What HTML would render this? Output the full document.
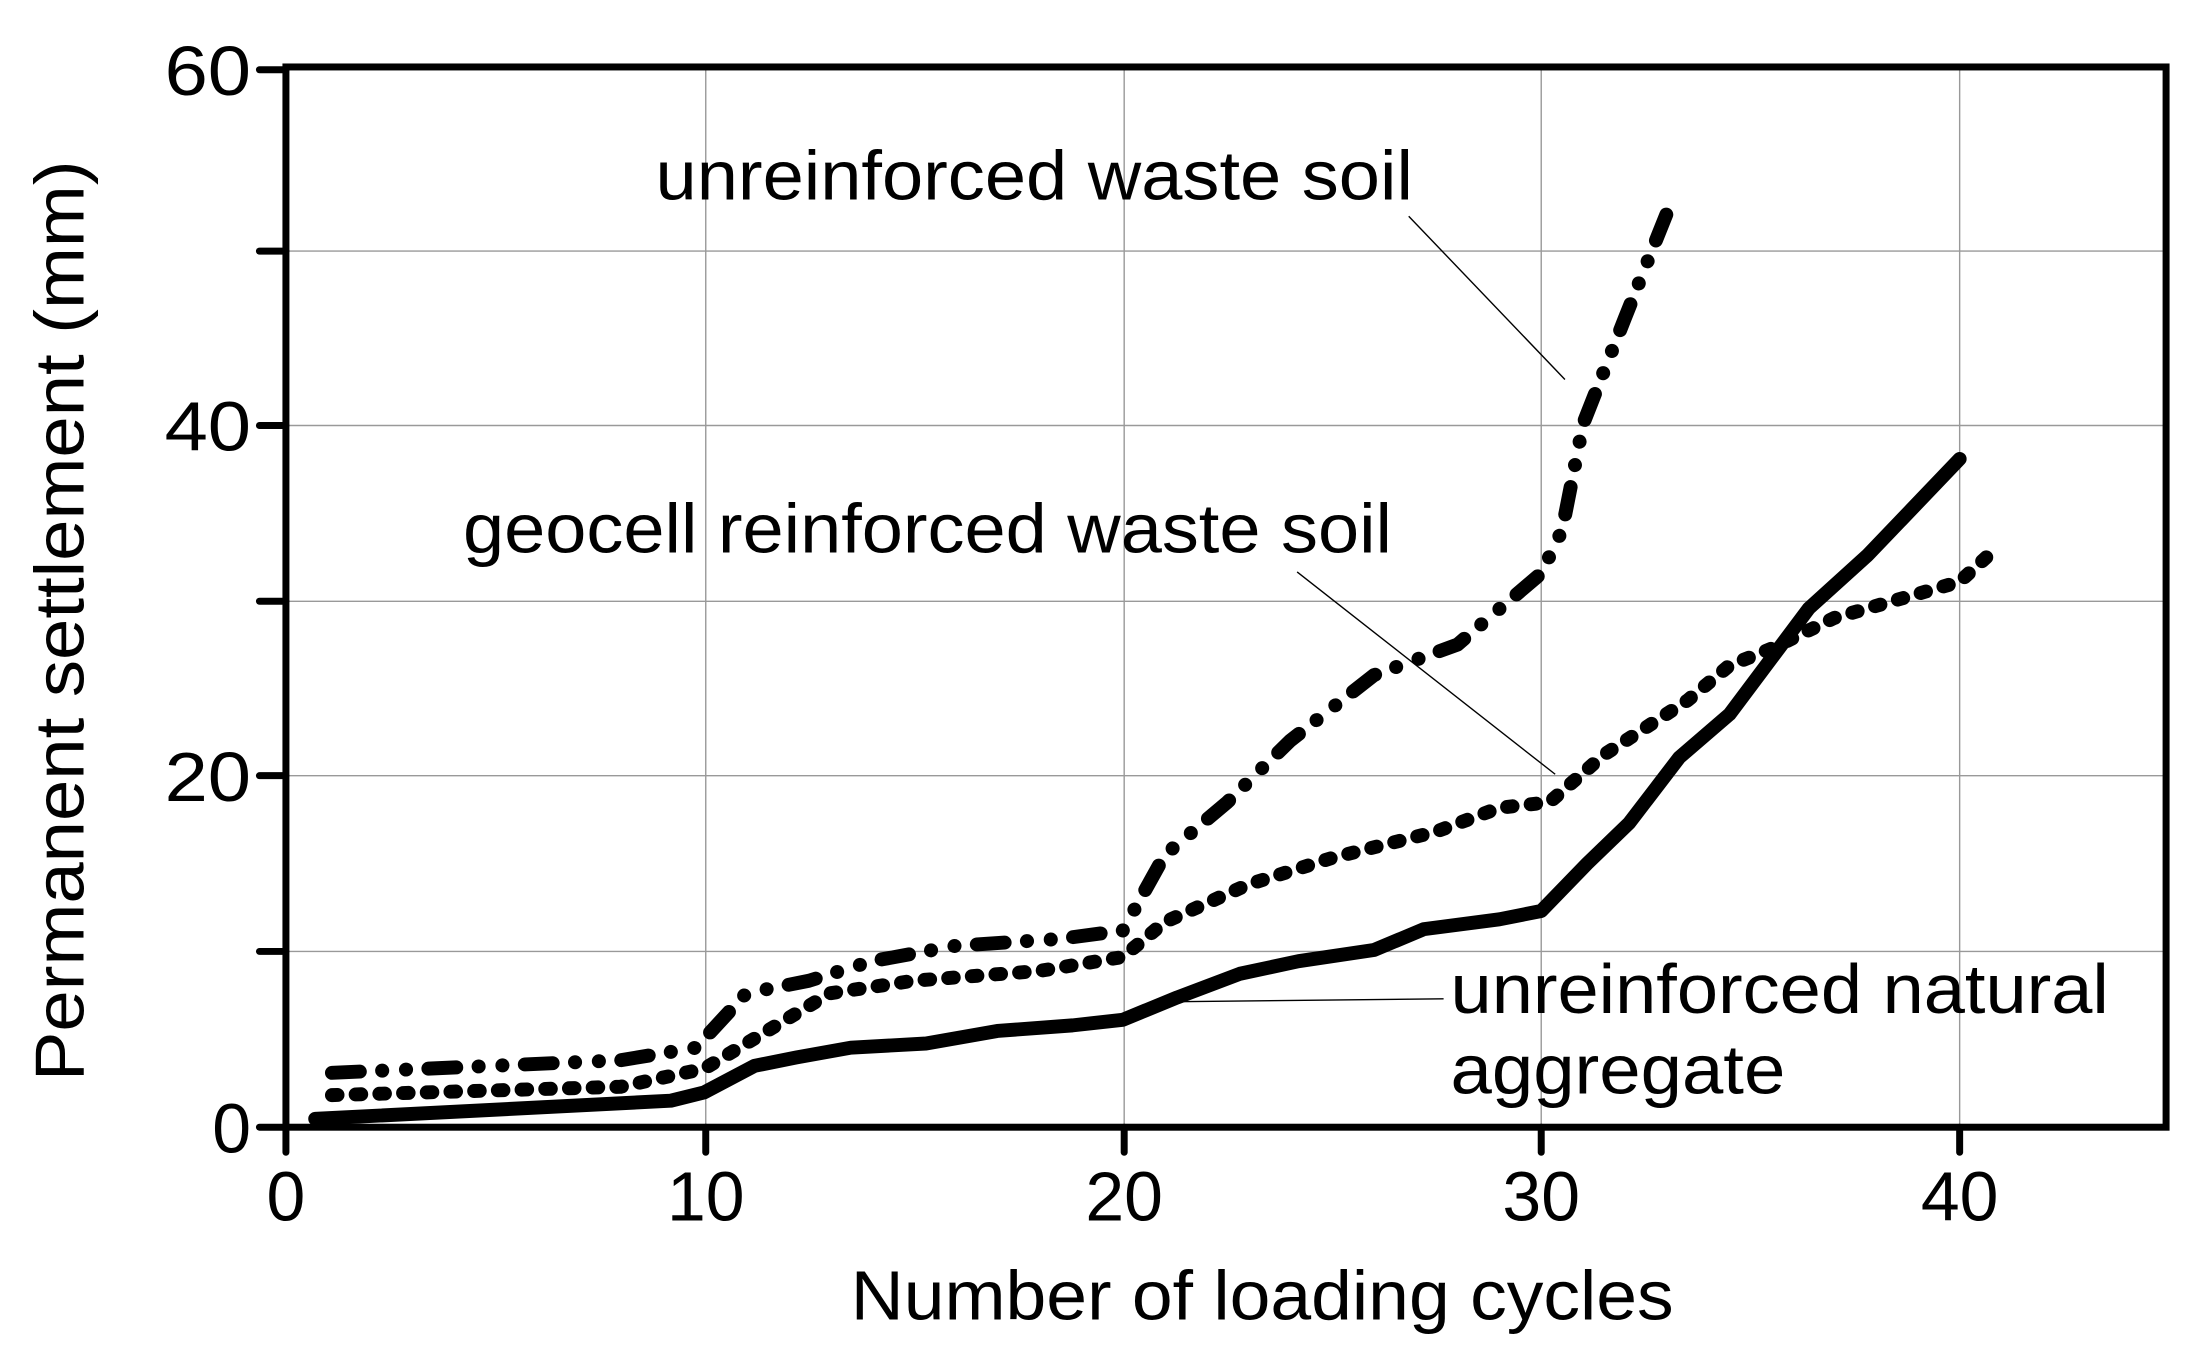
<!DOCTYPE html>
<html><head><style>html,body{margin:0;padding:0;background:#fff}svg{display:block}</style></head><body>
<svg width="2187" height="1356" viewBox="0 0 1568 972" preserveAspectRatio="none" xmlns="http://www.w3.org/2000/svg" font-family="Liberation Sans, Arial, sans-serif">
<g stroke="#999" stroke-width="1">
<line x1="506" y1="48" x2="506" y2="808"/><line x1="806" y1="48" x2="806" y2="808"/><line x1="1105" y1="48" x2="1105" y2="808"/><line x1="1405" y1="48" x2="1405" y2="808"/>
<line x1="205" y1="682" x2="1553" y2="682"/><line x1="205" y1="556" x2="1553" y2="556"/><line x1="205" y1="431" x2="1553" y2="431"/><line x1="205" y1="305" x2="1553" y2="305"/><line x1="205" y1="180" x2="1553" y2="180"/>
</g>
<rect x="205" y="48" width="1348" height="760" fill="none" stroke="#000" stroke-width="5"/>
<g stroke="#000" stroke-width="5" stroke-linecap="round">
<line x1="186" y1="808" x2="205" y2="808"/><line x1="186" y1="682" x2="205" y2="682"/><line x1="186" y1="556" x2="205" y2="556"/><line x1="186" y1="431" x2="205" y2="431"/><line x1="186" y1="305" x2="205" y2="305"/><line x1="186" y1="180" x2="205" y2="180"/><line x1="186" y1="50" x2="205" y2="50"/>
<line x1="205" y1="808" x2="205" y2="826"/><line x1="506" y1="808" x2="506" y2="826"/><line x1="806" y1="808" x2="806" y2="826"/><line x1="1105" y1="808" x2="1105" y2="826"/><line x1="1405" y1="808" x2="1405" y2="826"/>
</g>
<g font-size="50" fill="#000" text-anchor="end">
<text x="180" y="826">0</text><text x="180" y="574" textLength="62" lengthAdjust="spacingAndGlyphs">20</text><text x="180" y="323" textLength="62" lengthAdjust="spacingAndGlyphs">40</text><text x="180" y="68" textLength="62" lengthAdjust="spacingAndGlyphs">60</text>
</g>
<g font-size="50" fill="#000" text-anchor="middle">
<text x="205" y="875">0</text><text x="506" y="875">10</text><text x="806" y="875">20</text><text x="1105" y="875">30</text><text x="1405" y="875">40</text>
<text x="905" y="946" textLength="590" lengthAdjust="spacingAndGlyphs">Number of loading cycles</text>
<text transform="translate(60,445) rotate(-90)" textLength="660" lengthAdjust="spacingAndGlyphs">Permanent settlement (mm)</text>
</g>
<g stroke="#000" stroke-width="1">
<line x1="1010" y1="155" x2="1122" y2="272"/><line x1="930" y1="410" x2="1115" y2="555"/><line x1="845" y1="718" x2="1035" y2="716"/>
</g>
<g font-size="50" fill="#000">
<text x="470" y="143" textLength="543" lengthAdjust="spacingAndGlyphs">unreinforced waste soil</text>
<text x="332" y="396" textLength="666" lengthAdjust="spacingAndGlyphs">geocell reinforced waste soil</text>
<text x="1040" y="726" textLength="472" lengthAdjust="spacingAndGlyphs">unreinforced natural</text>
<text x="1040" y="784" textLength="240" lengthAdjust="spacingAndGlyphs">aggregate</text>
</g>
<g fill="none" stroke="#000" stroke-width="10" stroke-linejoin="round">
<polyline stroke-linecap="round" points="226,802 481,789 505,783 541,764 571,758 610,751 664,748 715,739 769,735 805,731 844,715 889,698 931,689 985,681 1021,666 1075,659 1105,653 1138,619 1168,590 1204,543 1240,512 1276,464 1297,436 1339,398 1405,329"/>
<polyline stroke-linecap="round" stroke-dasharray="4 13" points="238,785 445,779 505,766 550,739 595,712 655,703 745,696 805,686 835,661 895,634 955,615 1030,596 1075,579 1111,575 1150,541 1210,502 1240,477 1270,465 1315,443 1405,417 1429,395"/>
<polyline stroke-linecap="round" stroke-dasharray="20 16 0.1 17 0.1 16" points="238,769 445,760 499,751 535,712 580,703 625,689 685,678 760,673 805,667 835,613 880,575 925,531 985,484 1045,462 1105,411 1120,380 1135,304 1165,228 1195,153"/>
</g>
</svg>
</body></html>
